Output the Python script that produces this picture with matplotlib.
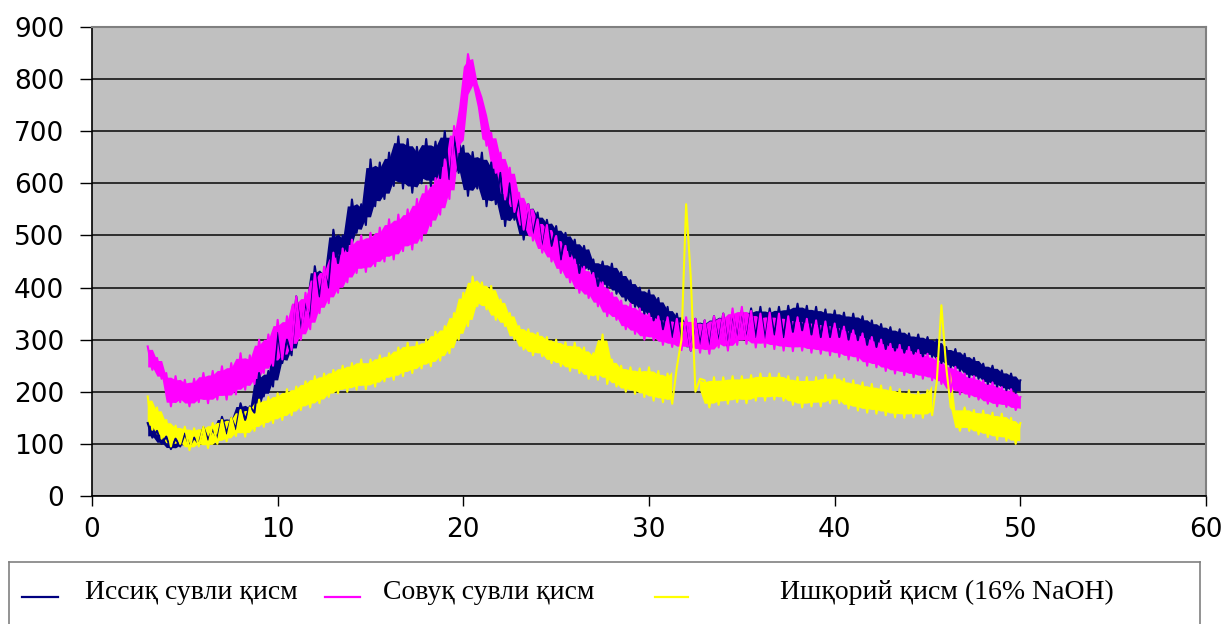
import numpy as np
import matplotlib.pyplot as plt
from matplotlib.lines import Line2D

# 2-theta grid, 0.25 deg step from 3 to 50
two_theta = np.arange(3.0, 50.01, 0.25)

# Иссиқ сувли қисм (navy)
hot = [
    140, 112, 125, 100,
    114, 90, 110, 95,
    120, 96, 112, 100,
    132, 108, 128, 110,
    152, 120, 150, 128,
    178, 146, 172, 160,
    236, 191, 240, 210,
    313, 255, 300, 270,
    383, 319, 370, 340,
    441, 383, 430, 400,
    511, 447, 500, 470,
    569, 505, 560, 520,
    646, 556, 640, 570,
    659, 595, 690, 590,
    685, 582, 670, 600,
    685, 595, 680, 610,
    700, 608, 690, 620,
    672, 576, 660, 590,
    659, 556, 640, 560,
    620, 518, 600, 530,
    569, 492, 560, 500,
    544, 473, 530, 480,
    518, 454, 505, 460,
    492, 428, 480, 435,
    454, 403, 450, 400,
    446, 388, 430, 375,
    414, 363, 400, 350,
    395, 337, 380, 320,
    363, 305, 350, 300,
    337, 279, 340, 290,
    337, 286, 345, 295,
    350, 286, 352, 300,
    356, 299, 360, 305,
    363, 299, 360, 310,
    363, 305, 365, 315,
    369, 318, 365, 310,
    363, 305, 358, 305,
    356, 305, 352, 300,
    350, 299, 345, 290,
    337, 286, 330, 282,
    324, 279, 320, 275,
    312, 273, 310, 268,
    305, 267, 300, 255,
    286, 247, 282, 240,
    273, 228, 265, 225,
    254, 215, 250, 210,
    241, 203, 235, 198,
    222,
]

# Совуқ сувли қисм (magenta)
cold = [
    287, 242, 265, 225,
    236, 172, 230, 180,
    223, 172, 225, 180,
    236, 178, 240, 185,
    249, 185, 255, 195,
    274, 204, 270, 215,
    300, 236, 310, 250,
    338, 262, 345, 280,
    383, 300, 390, 320,
    428, 351, 440, 370,
    467, 390, 475, 410,
    492, 428, 500, 430,
    505, 441, 515, 450,
    531, 454, 540, 470,
    550, 473, 570, 490,
    595, 518, 610, 540,
    646, 570, 710, 660,
    760, 848, 800, 780,
    740, 672, 697, 620,
    659, 569, 630, 545,
    582, 511, 560, 490,
    531, 467, 520, 450,
    499, 428, 480, 410,
    454, 390, 440, 380,
    428, 364, 410, 345,
    390, 338, 375, 320,
    369, 311, 360, 300,
    350, 299, 345, 290,
    343, 286, 340, 280,
    343, 279, 340, 275,
    337, 273, 345, 285,
    350, 279, 360, 290,
    363, 292, 355, 285,
    350, 286, 352, 282,
    350, 279, 345, 278,
    343, 279, 340, 275,
    337, 273, 335, 270,
    331, 267, 325, 262,
    318, 260, 312, 250,
    305, 247, 300, 240,
    292, 235, 290, 232,
    286, 228, 280, 225,
    273, 222, 265, 215,
    255, 200, 248, 195,
    235, 190, 230, 185,
    222, 177, 218, 172,
    209, 171, 205, 165,
    190,
]

# Ишқорий қисм, 16% NaOH (yellow)
alkali = [
    191, 127, 170, 110,
    146, 95, 135, 100,
    133, 88, 130, 95,
    133, 92, 140, 100,
    146, 105, 150, 115,
    165, 114, 170, 125,
    185, 133, 190, 140,
    197, 146, 205, 155,
    210, 165, 220, 170,
    230, 178, 235, 190,
    242, 197, 250, 200,
    255, 204, 262, 205,
    262, 210, 270, 220,
    274, 223, 285, 230,
    294, 236, 295, 245,
    300, 249, 315, 260,
    326, 274, 351, 300,
    390, 326, 421, 364,
    410, 358, 403, 338,
    377, 326, 351, 300,
    326, 281, 320, 270,
    313, 268, 305, 255,
    300, 249, 295, 240,
    294, 236, 285, 225,
    274, 223, 310, 215,
    262, 210, 250, 200,
    247, 196, 245, 190,
    247, 183, 240, 180,
    235, 177, 247, 300,
    560, 420, 200, 225,
    222, 170, 228, 175,
    228, 177, 230, 180,
    230, 178, 232, 183,
    235, 183, 235, 185,
    235, 183, 230, 175,
    228, 170, 228, 172,
    228, 172, 232, 178,
    232, 178, 225, 168,
    222, 164, 218, 160,
    215, 158, 212, 155,
    209, 151, 205, 150,
    203, 151, 200, 150,
    203, 155, 220, 366,
    250, 170, 160, 125,
    170, 125, 165, 118,
    164, 113, 160, 108,
    158, 106, 150, 100,
    140,
]

labels = ["Иссиқ сувли қисм", "Совуқ сувли қисм", "Ишқорий қисм (16% NaOH)"]
colors = ["#000080", "#FF00FF", "#FFFF00"]
# spread above which a spot is a sharp peak, drawn as a thin line only
peak_spread = [1000, 1000, 100]

fig = plt.figure(figsize=(12.29, 6.24), dpi=100)
ax = fig.add_axes([92 / 1229, 1 - 496 / 624, (1206 - 92) / 1229, (496 - 27) / 624])
ax.set_facecolor("#C0C0C0")

for series, col, lim in zip([hot, cold, alkali], colors, peak_spread):
    y = np.array(series, dtype=float)
    # dense core of the noisy trace: spread of each reading and its neighbours
    yp = np.pad(y, 1, mode="edge")
    hi = np.maximum(np.maximum(yp[:-2], yp[1:-1]), yp[2:])
    lo = np.minimum(np.minimum(yp[:-2], yp[1:-1]), yp[2:])
    mid = (hi + lo) / 2
    half = (hi - lo) / 2
    ax.fill_between(two_theta, mid - 0.75 * half, mid + 0.75 * half,
                    where=(hi - lo) < lim, color=col, lw=0)
    ax.plot(two_theta, y, color=col, lw=1.5)

ax.set_xlim(0, 60)
ax.set_ylim(0, 900)
ax.set_xticks(range(0, 61, 10))
ax.set_yticks(range(0, 901, 100))
ax.yaxis.grid(True, color="#222222", lw=1.3)
ax.set_axisbelow(True)

for s in ["top", "right"]:
    ax.spines[s].set_color("#808080")
    ax.spines[s].set_linewidth(1.5)
for s in ["left", "bottom"]:
    ax.spines[s].set_color("black")
    ax.spines[s].set_linewidth(1.2)

ax.tick_params(axis="y", length=9, width=1, pad=11, labelsize=19)
ax.tick_params(axis="x", length=7, width=1, pad=8, labelsize=19)

# legend box at the bottom
lax = fig.add_axes([9 / 1229, -0.03, (1200 - 9) / 1229, 0.03 + 62 / 624])
lax.set_xlim(0, 1191)
lax.set_ylim(0, 1)
lax.set_xticks([])
lax.set_yticks([])
for s in lax.spines.values():
    s.set_color("#808080")
    s.set_linewidth(1.2)

handle_x = [(13, 49), (316, 351), (646, 679)]
text_x = [76, 374, 771]
for (x0, x1), tx, lab, col in zip(handle_x, text_x, labels, colors):
    lax.add_line(Line2D([x0, x1], [0.565, 0.565], color=col, lw=1.6))
    lax.text(tx, 0.62, lab, va="center", ha="left", fontsize=20,
             family="Liberation Serif")

fig.savefig("out.png", dpi=100)
